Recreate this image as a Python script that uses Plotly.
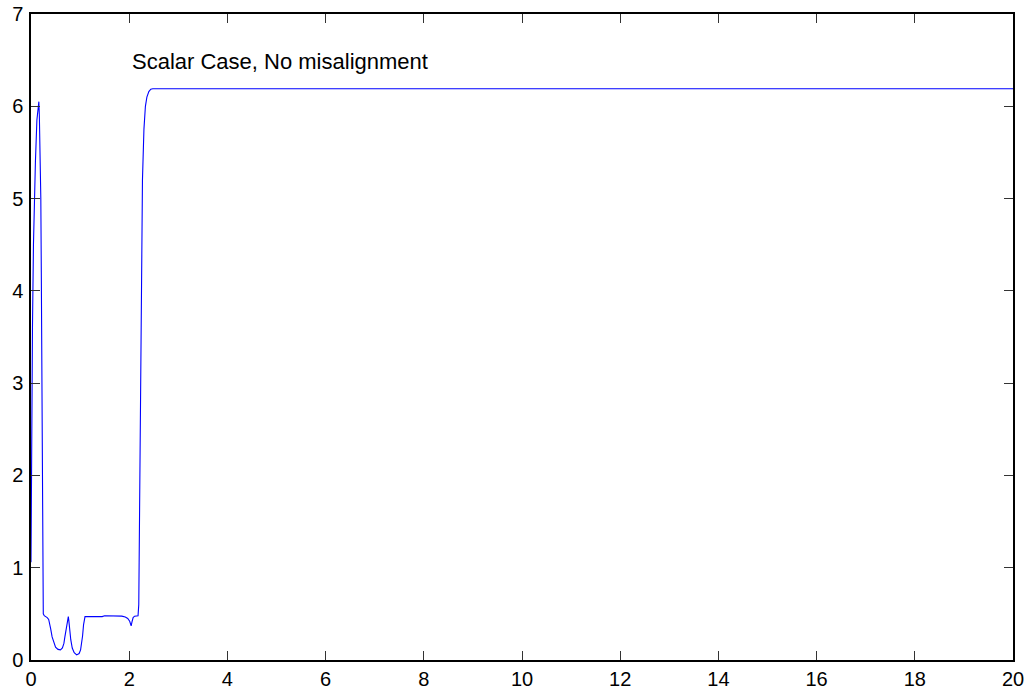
import plotly.graph_objects as go

t = [0.0, 0.01, 0.03, 0.05, 0.07, 0.09, 0.12, 0.14, 0.16, 0.17, 0.18, 0.19, 0.20, 0.21, 0.22, 0.23, 0.24, 0.25,
     0.27, 0.30, 0.33, 0.36, 0.38, 0.40, 0.43, 0.46, 0.50, 0.55, 0.60, 0.64, 0.67, 0.69, 0.71, 0.73, 0.75, 0.76,
     0.77, 0.79, 0.81, 0.84, 0.88, 0.93, 0.98, 1.01, 1.03, 1.05, 1.07, 1.08, 1.10, 1.30, 1.45, 1.50, 1.70, 1.85,
     1.92, 1.97, 2.01, 2.04, 2.06, 2.08, 2.11, 2.18, 2.195, 2.21, 2.23, 2.25, 2.27, 2.30, 2.33, 2.36, 2.40, 2.44,
     2.48, 5.0, 10.0, 15.0, 20.0]
y = [1.06, 2.2, 3.6, 4.5, 5.0, 5.4, 5.85, 6.0, 6.05, 5.9, 5.6, 5.3, 5.0, 4.2, 3.0, 1.8, 0.9, 0.5,
     0.48, 0.47, 0.46, 0.44, 0.40, 0.34, 0.25, 0.19, 0.14, 0.115, 0.11, 0.13, 0.18, 0.25, 0.33, 0.41, 0.46, 0.47,
     0.43, 0.32, 0.22, 0.13, 0.08, 0.055, 0.07, 0.11, 0.17, 0.26, 0.38, 0.44, 0.47, 0.47, 0.47, 0.48, 0.48, 0.475,
     0.465, 0.45, 0.42, 0.37, 0.42, 0.46, 0.475, 0.48, 0.6, 1.6, 3.5, 4.6, 5.2, 5.75, 6.0, 6.1, 6.16, 6.185,
     6.19, 6.19, 6.19, 6.19, 6.19]

x_ticks = [0, 2, 4, 6, 8, 10, 12, 14, 16, 18, 20]
y_ticks = [0, 1, 2, 3, 4, 5, 6, 7]
label_text = "Scalar Case, No misalignment"

fig = go.Figure()
fig.add_trace(go.Scatter(x=t, y=y, mode="lines", line=dict(color="#0000ff", width=1.1), showlegend=False,
                         hoverinfo="skip"))

fig.add_annotation(x=2.02, y=6.48, text=label_text, showarrow=False, xanchor="left", yanchor="middle",
                   font=dict(family="Liberation Sans, Arial", size=22, color="black"))

axis_common = dict(showgrid=False, zeroline=False, showline=True, linecolor="black", linewidth=1.5,
                   mirror="ticks", ticks="inside", ticklen=9, tickcolor="#333333", tickwidth=1,
                   automargin=False, ticklabeloverflow="allow",
                   tickfont=dict(family="Liberation Sans, Arial", size=20, color="black"))

fig.update_xaxes(range=[0, 20], tickvals=x_ticks, ticktext=[str(v) for v in x_ticks], **axis_common)
fig.update_yaxes(range=[0, 7], tickvals=y_ticks, ticktext=[str(v) for v in y_ticks], ticklabelstandoff=2,
                 **axis_common)

fig.update_layout(width=1033, height=692, margin=dict(l=31, r=20, t=14, b=32),
                  plot_bgcolor="white", paper_bgcolor="white")

# remove the default 8px page margin so the figure fills the window exactly
fig.write_html("out.html", config={"displayModeBar": False},
               post_script="document.body.style.margin='0';")
